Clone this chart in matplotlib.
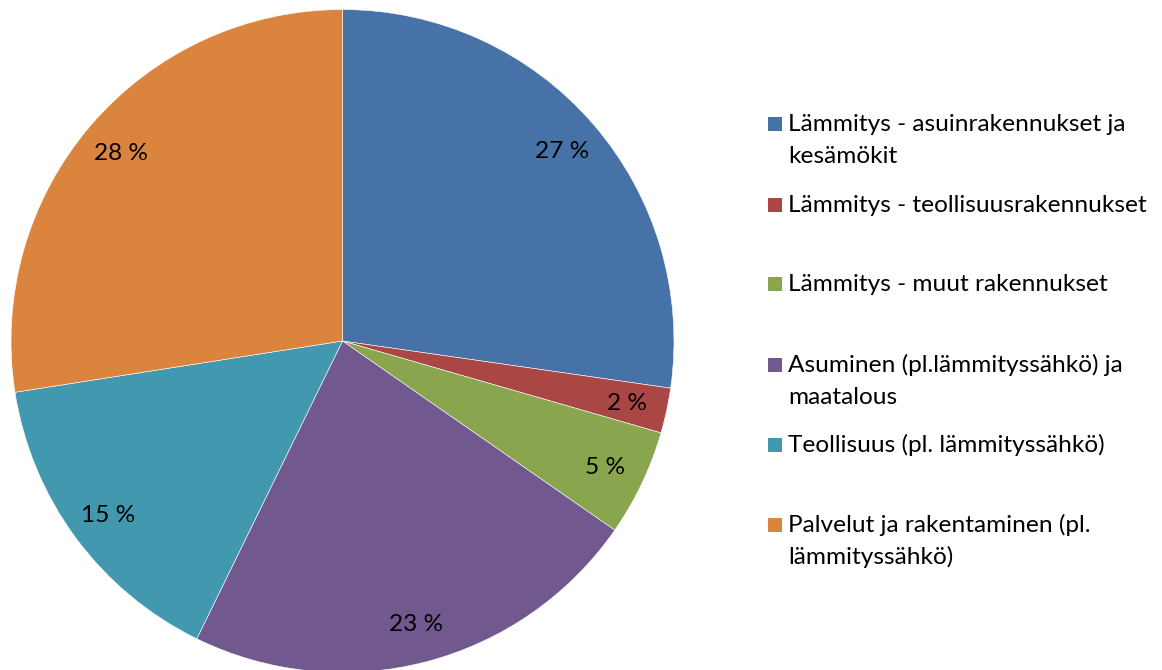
import numpy as np
import matplotlib
matplotlib.use("Agg")
import matplotlib.pyplot as plt
from matplotlib.patches import Rectangle

categories = [
    "Lämmitys - asuinrakennukset ja\nkesämökit",
    "Lämmitys - teollisuusrakennukset",
    "Lämmitys - muut rakennukset",
    "Asuminen (pl.lämmityssähkö) ja\nmaatalous",
    "Teollisuus (pl. lämmityssähkö)",
    "Palvelut ja rakentaminen (pl.\nlämmityssähkö)",
]
values = [27.3, 2.2, 5.2, 22.6, 15.3, 27.5]
pct_labels = ["27 %", "2 %", "5 %", "23 %", "15 %", "28 %"]
colors = ["#4672A8", "#AA4643", "#89A54E", "#71588F", "#4198AF", "#DB843D"]

W, H = 1162, 670
fig = plt.figure(figsize=(W / 100, H / 100), dpi=100)
fig.patch.set_facecolor("white")

font = "Lato"
fs = 17.6

cx, cy, r = 342.5, 341, 331.5
ax = fig.add_axes([(cx - r) / W, (H - cy - r) / H, 2 * r / W, 2 * r / H])
wedges, _ = ax.pie(
    values, colors=colors, startangle=90, counterclock=False,
    wedgeprops=dict(edgecolor="white", linewidth=0.4),
)
ax.set_xlim(-1, 1)
ax.set_ylim(-1, 1)
ax.set_aspect("equal")
ax.axis("off")

# percentage labels at the middle of each wedge (digits vertically centred)
dist = 0.878
half_digit = 8 / r
for w, lab in zip(wedges, pct_labels):
    mid = np.deg2rad((w.theta1 + w.theta2) / 2)
    ax.text(dist * np.cos(mid), dist * np.sin(mid) - half_digit, lab,
            fontsize=fs, family=font, color="black", ha="center", va="baseline")

# legend drawn manually (Excel-style, top-aligned text)
baselines = [131, 211.5, 291, 371.5, 451.5, 532]
line_gap = 32
sq = 14
for cat, col, b in zip(categories, colors, baselines):
    fig.patches.append(Rectangle((768 / W, (H - b) / H), sq / W, sq / H,
                                 transform=fig.transFigure, facecolor=col,
                                 edgecolor="none"))
    for i, line in enumerate(cat.split("\n")):
        fig.text(788 / W, (H - b - i * line_gap) / H, line, fontsize=fs,
                 family=font, color="black", ha="left", va="baseline")

fig.savefig("out.png", dpi=100, facecolor="white")
